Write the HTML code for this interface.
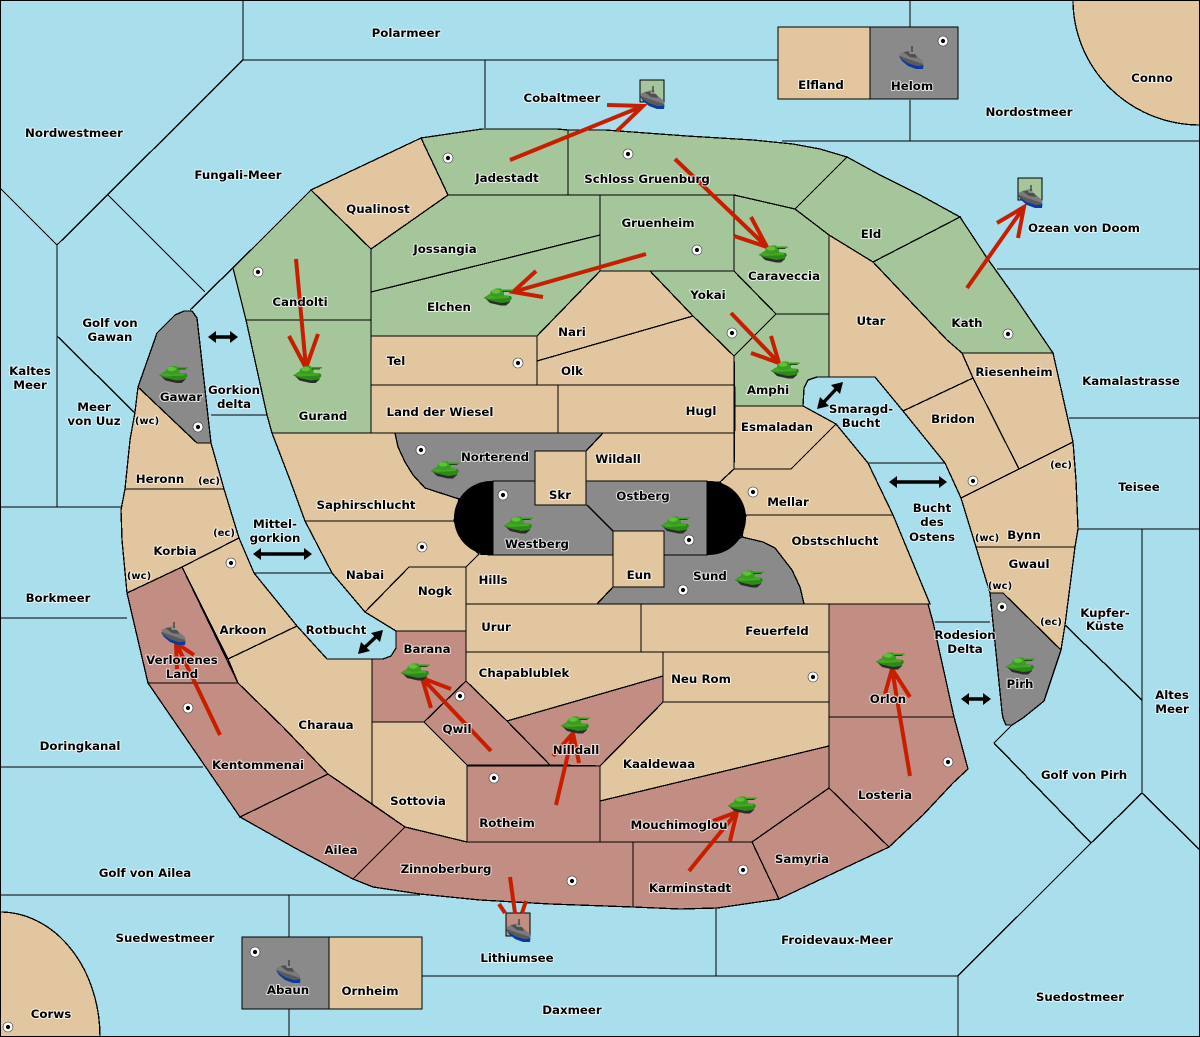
<!DOCTYPE html>
<html><head><meta charset="utf-8"><title>Map</title>
<style>
html,body{margin:0;padding:0;background:#a9deec}
svg{display:block}
.s{stroke:#000;stroke-width:1.4;fill:none;shape-rendering:crispEdges}
.t,.g,.r,.k,.c{stroke:#000;stroke-width:1.3;stroke-linejoin:miter;shape-rendering:crispEdges}
.t{fill:#e1c6a0}.g{fill:#a5c59b}.r{fill:#c28d83}.k{fill:#8a8a8a}.c{fill:#000}
text{font:bold 11.8px "DejaVu Sans","Liberation Sans",sans-serif;fill:#000;text-anchor:middle;paint-order:stroke;stroke:#fff;stroke-width:2px;stroke-opacity:.75;stroke-linejoin:round}
.a{fill:none;stroke:#c81e00;stroke-width:4;stroke-linecap:butt;stroke-linejoin:miter}
.d{fill:none;stroke:#000;stroke-width:3.4}
.dh{fill:#000;stroke:none}
</style></head><body>
<svg width="1200" height="1037" viewBox="0 0 1200 1037" xmlns="http://www.w3.org/2000/svg">
<defs>
<g id="tank">
<polygon points="-12,2 -8,6 3,8.5 8,8.5 12,5 12,2" fill="#2b2b2b"/>
<polygon points="-14.5,1 -9,-2.5 3,-2 13,-1 14,1.5 11,5 3,6 -8,3.5" fill="#2c8a18"/>
<polygon points="-13.5,0.5 -8,-2 11,-1 11,1 -8,2" fill="#43a825"/>
<polygon points="-8.5,-2 -7,-6 -2,-8.5 3,-8.5 6,-5 6,-1 -2,0" fill="#3a9c20"/>
<ellipse cx="-2" cy="-5.5" rx="4.5" ry="2.2" fill="#5fc03a"/>
<rect x="4.5" y="-7.5" width="10" height="1.5" fill="#3a9c20"/>
<rect x="4.5" y="-6" width="8" height="1" fill="#174f0c"/>
</g>
<g id="ship">
<polygon points="-12,-2 -9,3 -3,8 5,11 12,11 12.5,7 3,6 -8,0" fill="#0b3a9c"/>
<polygon points="-12,-4 -7,-6 0,-5 6,-2 12,3 12.5,7 6,8 -3,5 -9,1" fill="#7b7b7b"/>
<polygon points="-11,-2 -3,1 6,4 12,6 12,7.5 6,8 -3,5 -9,1" fill="#5a5a5a"/>
<polygon points="-7.5,-6 -1,-7 5,-3 6,0 -1,-1" fill="#4f4f4f"/>
<polygon points="-3,-8 2,-8 3,-4 -1,-4" fill="#8c8c8c"/>
<line x1="1" y1="-12" x2="1" y2="-6" stroke="#333" stroke-width="1.2"/>
</g>
<g id="cap">
<circle r="5" fill="#fff" stroke="#333" stroke-width=".6"/><circle r="2.1" fill="#000"/>
</g>
</defs>

<rect width="1200" height="1037" fill="#a9deec"/>

<!-- sea boundaries -->
<path class="s" d="M243 0V60L57 245L0 188M108 195L205 292M57 245V507M57 336L135 413M0 507H122M0 618H127M0 767H203M0 895H420M289 895V937M289 1009V1037
M190 310L312 190M243 60H778M485 60V128M782 141H1200M910 0V27M910 100V141
M997 269H1200M1069 418H1200M1078 529H1200M1142 529V793L1091 843L958 976V1037M1065 625L1142 700M1142 793L1200 850M1012 725L994 743L1091 843M716 905V976M422 976H958
M211 415H267M254 573H332M868 463H945M935 622H990"/>

<!-- corners -->
<path class="t" d="M1073 0A127 125 0 0 0 1200 125V0Z"/>
<path class="t" d="M0 912A100 125 0 0 1 100 1037H0Z"/>

<!-- north ring -->
<polygon class="g" points="421,138 482,129 557,129 568,130 568,195 448,195"/>
<polygon class="g" points="568,130 605,130 687,136 753,140 793,144 820,149 847,157 795,209 734,195 568,195"/>
<polygon class="g" points="847,157 880,175 920,195 960,217 873,262 829,235 795,209"/>
<polygon class="g" points="960,217 987,258 1017,300 1053,353 962,353 947,340 873,262"/>
<polygon class="t" points="829,235 873,262 947,340 962,353 973,378 903,411 875,377 829,377"/>
<polygon class="t" points="962,353 1053,353 1073,442 1019,469 973,378"/>
<polygon class="t" points="903,411 973,378 1019,469 961,498 945,463"/>
<polygon class="t" points="961,498 1073,442 1076,480 1078,529 1075,547 976,547"/>
<polygon class="t" points="976,547 1075,547 1065,625 1061,650 1003,593 990,593"/>
<polygon class="k" points="990,593 1003,593 1061,650 1044,701 1023,718 1012,725 1006,725 1003,718 1002,712"/>

<!-- south-east -->
<polygon class="r" points="829,604 928,604 933,622 954,717 829,717"/>
<polygon class="r" points="829,717 954,717 968,769 953,783 923,815 889,847 829,788"/>
<polygon class="r" points="829,788 889,847 779,899 752,842"/>
<polygon class="r" points="633,842 752,842 779,899 717,908 680,909 633,907"/>
<polygon class="r" points="600,801 829,746 829,788 752,842 600,842"/>
<polygon class="t" points="663,702 829,702 829,746 600,801 600,766"/>
<polygon class="t" points="663,652 829,652 829,702 663,702"/>
<polygon class="r" points="507,721 663,676 663,702 600,766 550,765"/>
<polygon class="t" points="466,652 663,652 663,676 507,721 466,681"/>
<polygon class="r" points="467,766 600,766 600,842 467,842"/>
<polygon class="r" points="466,681 507,721 550,765 467,765 424,722"/>
<polygon class="r" points="396,631 466,631 466,681 424,722 372,722 372,659 383,659 391,656 396,648"/>
<polygon class="t" points="372,722 424,722 467,765 467,842 405,827 372,804"/>
<polygon class="t" points="297,626 327,659 372,659 372,804 328,774 283,727 238,683 228,659"/>
<polygon class="t" points="182,567 239,538 254,573 297,626 228,659"/>
<polygon class="r" points="127,593 182,567 238,683 148,683"/>
<polygon class="r" points="148,683 238,683 283,727 328,774 240,817"/>
<polygon class="r" points="240,817 328,774 405,827 353,879 295,848"/>
<polygon class="r" points="353,879 405,827 467,842 633,842 633,907 550,904 480,900 420,894 373,887"/>
<polygon class="t" points="125,489 224,489 239,538 182,567 127,593 122,540 121,510"/>
<polygon class="t" points="138,387 197,443 211,443 224,489 125,489 130,440 135,412"/>
<polygon class="k" points="138,387 157,333 175,315 184,311 192,311 197,318 211,443 197,443"/>

<!-- north-west -->
<polygon class="g" points="233,268 311,190 371,249 371,320 246,320"/>
<polygon class="g" points="246,320 371,320 371,433 272,433 267,415"/>
<polygon class="t" points="311,190 421,138 448,195 371,249"/>
<polygon class="g" points="371,249 448,195 600,195 600,235 371,292"/>
<polygon class="g" points="371,292 600,235 600,271 537,336 371,336"/>
<polygon class="g" points="600,195 734,195 734,271 600,271"/>
<polygon class="g" points="734,195 795,209 829,235 829,314 776,314 734,271"/>
<polygon class="g" points="650,271 734,271 776,314 734,356 693,316"/>
<polygon class="g" points="734,356 776,314 829,314 829,377 817,377 808,380 804,388 803,406 735,406"/>
<polygon class="t" points="537,336 600,271 650,271 693,316 537,361"/>
<polygon class="t" points="537,361 693,316 734,356 734,385 537,385"/>
<polygon class="t" points="371,336 537,336 537,385 371,385"/>
<polygon class="t" points="371,385 558,385 558,433 371,433"/>
<polygon class="t" points="558,385 734,385 734,433 558,433"/>
<polygon class="t" points="735,406 803,406 836,424 791,469 734,469"/>

<!-- centre -->
<polygon class="t" points="603,433 734,433 734,469 720,482 586,482 586,451"/>
<polygon class="t" points="720,482 734,469 791,469 836,424 868,463 893,515 746,515"/>
<polygon class="t" points="746,515 893,515 930,604 804,604 770,570 742,537"/>
<polygon class="k" points="742,537 763,542 775,548 792,570 800,587 804,604 597,604 613,587 664,587 664,555 707,555"/>
<polygon class="k" points="395,433 603,433 586,451 535,451 535,482 493,482 459,499 425,488 413,475 405,462 398,447"/>
<polygon class="t" points="272,433 395,433 398,447 405,462 413,475 425,488 459,499 454,521 305,521 290,480"/>
<polygon class="t" points="305,521 454,521 462,538 479,554 466,567 409,567 365,612 332,573"/>
<polygon class="t" points="409,567 466,567 466,631 396,631 365,612"/>
<polygon class="t" points="479,554 493,555 613,555 613,587 597,604 466,604 466,567"/>
<polygon class="t" points="466,604 641,604 641,652 466,652"/>
<polygon class="t" points="641,604 829,604 829,652 641,652"/>
<path class="k" d="M493 481H707V555H493Z"/>
<path class="s" d="M587 505L613 531" style="shape-rendering:auto"/>
<path d="M493 481H491A37 37 0 0 0 491 555H493Z" fill="#000"/>
<path d="M707 481H709A37 37 0 0 1 709 555H707Z" fill="#000"/>
<rect class="t" x="535" y="451" width="51" height="54"/>
<rect class="t" x="613" y="531" width="51" height="56"/>

<!-- islands -->
<rect class="t" x="778" y="27" width="92" height="72"/>
<rect class="k" x="870" y="27" width="88" height="72"/>
<rect class="k" x="242" y="937" width="87" height="72"/>
<rect class="t" x="329" y="937" width="93" height="72"/>
<rect class="g" x="640" y="80" width="24" height="22"/>
<rect class="g" x="1018" y="178" width="24" height="22"/>
<rect class="r" x="506" y="913" width="24" height="23"/>

<!-- outer frame -->
<rect x=".5" y=".5" width="1199" height="1036" fill="none" stroke="#000" stroke-width="1"/>

<!-- red arrows -->
<path class="a" d="M296 259L306 368M289 336L306 368L318 334"/>
<path class="a" d="M510 160L643 106M607 105L643 106L617 131"/>
<path class="a" d="M675 159L767 247M751 217L767 247L734 236"/>
<path class="a" d="M646 254L513 292M536 271L513 292L543 297"/>
<path class="a" d="M731 313L779 363M771 336L779 363L751 353"/>
<path class="a" d="M967 288L1024 207M997 223L1024 207L1018 238"/>
<path class="a" d="M220 735L176 643M177 669L176 643L194 655"/>
<path class="a" d="M491 751L422 678M451 689L422 678L431 708"/>
<path class="a" d="M556 805L573 733M553 756L573 733L579 763"/>
<path class="a" d="M689 871L737 812M713 821L737 812L730 841"/>
<path class="a" d="M910 776L892 669M885 694L892 669L910 697"/>
<path class="a" d="M510 877L515 913M499 904L505 913M526 901L522 913"/>

<!-- black double arrows -->
<g>
<path class="d" d="M212 337H234"/><path class="dh" d="M208 337L216 331V343ZM238 337L230 331V343Z"/>
<path class="d" d="M823 403L837 388"/><path class="dh" d="M817 409L820 397L829 406ZM843 382L840 394L831 385Z"/>
<path class="d" d="M895 482H940"/><path class="dh" d="M889 482L897 476V488ZM947 482L939 476V488Z"/>
<path class="d" d="M363 649L378 635"/><path class="dh" d="M358 654L361 642L370 651ZM383 630L380 642L371 633Z"/>
<path class="d" d="M260 554H305"/><path class="dh" d="M253 554L261 548V560ZM312 554L304 548V560Z"/>
<path class="d" d="M966 699H986"/><path class="dh" d="M961 699L969 693V705ZM991 699L983 693V705Z"/>
</g>

<!-- tanks -->
<use href="#tank" x="173.5" y="374.5"/><use href="#tank" x="307.5" y="374.5"/><use href="#tank" x="498" y="297"/>
<use href="#tank" x="773" y="254"/><use href="#tank" x="785" y="370"/><use href="#tank" x="445" y="470"/>
<use href="#tank" x="518" y="525"/><use href="#tank" x="675" y="525"/><use href="#tank" x="749" y="579"/>
<use href="#tank" x="415" y="672"/><use href="#tank" x="575" y="725"/><use href="#tank" x="742" y="805"/>
<use href="#tank" x="890" y="661"/><use href="#tank" x="1020" y="666"/>

<!-- ships -->
<use href="#ship" x="911" y="58"/><use href="#ship" x="288" y="972"/><use href="#ship" x="652" y="98"/>
<use href="#ship" x="1030" y="197"/><use href="#ship" x="518" y="931"/><use href="#ship" x="173" y="634"/>

<!-- capitals -->
<use href="#cap" x="448" y="158"/><use href="#cap" x="628" y="154"/><use href="#cap" x="258" y="272"/>
<use href="#cap" x="943" y="41"/><use href="#cap" x="255" y="952"/><use href="#cap" x="8" y="1027"/>
<use href="#cap" x="697" y="250"/><use href="#cap" x="732" y="333"/><use href="#cap" x="518" y="363"/>
<use href="#cap" x="421" y="450"/><use href="#cap" x="503" y="495"/><use href="#cap" x="689" y="540"/>
<use href="#cap" x="753" y="492"/><use href="#cap" x="422" y="547"/><use href="#cap" x="231" y="563"/>
<use href="#cap" x="198" y="427"/><use href="#cap" x="188" y="708"/><use href="#cap" x="460" y="696"/>
<use href="#cap" x="494" y="778"/><use href="#cap" x="572" y="881"/><use href="#cap" x="743" y="870"/>
<use href="#cap" x="948" y="762"/><use href="#cap" x="813" y="677"/><use href="#cap" x="683" y="590"/>
<use href="#cap" x="973" y="481"/><use href="#cap" x="1002" y="607"/><use href="#cap" x="1008" y="334"/>

<!-- labels -->
<g>
<text x="406" y="37">Polarmeer</text><text x="74" y="137">Nordwestmeer</text><text x="238" y="179">Fungali-Meer</text>
<text x="562" y="102">Cobaltmeer</text><text x="821" y="89">Elfland</text><text x="912" y="90">Helom</text>
<text x="1152" y="82">Conno</text><text x="1029" y="116">Nordostmeer</text><text x="1084" y="232">Ozean von Doom</text>
<text x="1131" y="385">Kamalastrasse</text><text x="1139" y="491">Teisee</text>
<text x="1105" y="617">Kupfer-</text><text x="1105" y="630">Küste</text>
<text x="1172" y="699">Altes</text><text x="1172" y="713">Meer</text>
<text x="1084" y="779">Golf von Pirh</text><text x="1080" y="1001">Suedostmeer</text><text x="837" y="944">Froidevaux-Meer</text>
<text x="572" y="1014">Daxmeer</text><text x="517" y="962">Lithiumsee</text><text x="165" y="942">Suedwestmeer</text>
<text x="51" y="1018">Corws</text><text x="288" y="994">Abaun</text><text x="370" y="995">Ornheim</text>
<text x="145" y="877">Golf von Ailea</text><text x="80" y="750">Doringkanal</text><text x="58" y="602">Borkmeer</text>
<text x="30" y="375">Kaltes</text><text x="30" y="389">Meer</text>
<text x="94" y="411">Meer</text><text x="94" y="425">von Uuz</text>
<text x="110" y="327">Golf von</text><text x="110" y="341">Gawan</text>
<text x="181" y="401">Gawar</text><text x="234" y="394">Gorkion</text><text x="234" y="408">delta</text>
<text x="147" y="424" style="font-size:10px">(wc)</text><text x="160" y="483">Heronn</text>
<text x="209" y="484" style="font-size:10px">(ec)</text><text x="224" y="536" style="font-size:10px">(ec)</text>
<text x="139" y="579" style="font-size:10px">(wc)</text><text x="175" y="555">Korbia</text>
<text x="275" y="528">Mittel-</text><text x="275" y="542">gorkion</text>
<text x="366" y="509">Saphirschlucht</text><text x="365" y="579">Nabai</text><text x="435" y="595">Nogk</text>
<text x="243" y="634">Arkoon</text><text x="336" y="634">Rotbucht</text>
<text x="182" y="664">Verlorenes</text><text x="182" y="678">Land</text>
<text x="326" y="729">Charaua</text><text x="427" y="653">Barana</text><text x="457" y="733">Qwil</text>
<text x="258" y="769">Kentommenai</text><text x="341" y="854">Ailea</text><text x="446" y="873">Zinnoberburg</text>
<text x="418" y="805">Sottovia</text><text x="507" y="827">Rotheim</text><text x="576" y="754">Nilldall</text>
<text x="524" y="677">Chapablublek</text><text x="496" y="631">Urur</text><text x="493" y="584">Hills</text>
<text x="777" y="635">Feuerfeld</text><text x="701" y="683">Neu Rom</text><text x="659" y="768">Kaaldewaa</text>
<text x="679" y="829">Mouchimoglou</text><text x="690" y="892">Karminstadt</text><text x="802" y="863">Samyria</text>
<text x="885" y="799">Losteria</text><text x="888" y="703">Orlon</text>
<text x="965" y="639">Rodesion</text><text x="965" y="653">Delta</text>
<text x="1020" y="688">Pirh</text><text x="1000" y="589" style="font-size:10px">(wc)</text>
<text x="1051" y="625" style="font-size:10px">(ec)</text><text x="1029" y="568">Gwaul</text><text x="1024" y="539">Bynn</text>
<text x="987" y="541" style="font-size:10px">(wc)</text><text x="1061" y="468" style="font-size:10px">(ec)</text>
<text x="932" y="512">Bucht</text><text x="932" y="526">des</text><text x="932" y="541">Ostens</text>
<text x="835" y="545">Obstschlucht</text><text x="788" y="506">Mellar</text><text x="710" y="580">Sund</text>
<text x="639" y="579">Eun</text><text x="537" y="548">Westberg</text><text x="643" y="500">Ostberg</text>
<text x="560" y="499">Skr</text><text x="618" y="463">Wildall</text><text x="495" y="461">Norterend</text>
<text x="440" y="416">Land der Wiesel</text><text x="701" y="415">Hugl</text><text x="777" y="431">Esmaladan</text>
<text x="861" y="413">Smaragd-</text><text x="861" y="427">Bucht</text>
<text x="953" y="423">Bridon</text><text x="1014" y="376">Riesenheim</text><text x="967" y="327">Kath</text>
<text x="871" y="325">Utar</text><text x="871" y="238">Eld</text><text x="768" y="394">Amphi</text>
<text x="784" y="280">Caraveccia</text><text x="708" y="299">Yokai</text><text x="658" y="227">Gruenheim</text>
<text x="647" y="183">Schloss Gruenburg</text><text x="507" y="182">Jadestadt</text><text x="378" y="213">Qualinost</text>
<text x="445" y="253">Jossangia</text><text x="449" y="311">Elchen</text><text x="572" y="336">Nari</text>
<text x="572" y="375">Olk</text><text x="396" y="365">Tel</text><text x="300" y="306">Candolti</text><text x="323" y="420">Gurand</text>
</g>
</svg>
</body></html>
